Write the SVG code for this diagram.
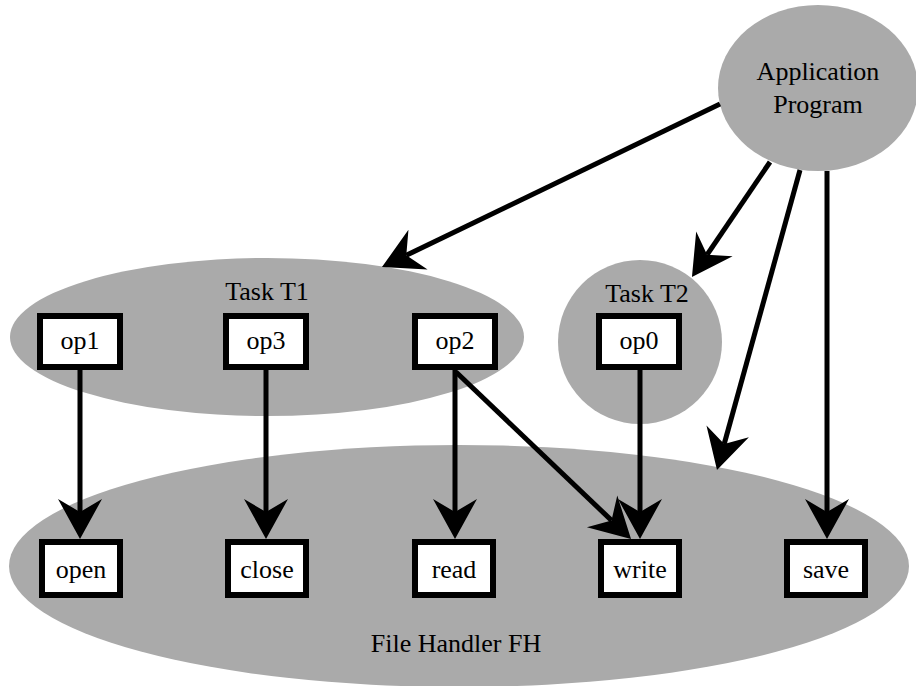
<svg xmlns="http://www.w3.org/2000/svg" width="916" height="686" viewBox="0 0 916 686" font-family="'Liberation Serif', 'DejaVu Serif', serif">
<style>
.cl{fill:#aaaaaa;stroke:none}
.bx{fill:#ffffff;stroke:#000000;stroke-width:6}
.t{font-family:'Liberation Serif','DejaVu Serif',serif;font-size:26px;fill:#000000;text-anchor:middle}
.e{stroke:#000000;stroke-width:5;fill:none;marker-end:url(#ah)}
</style>
<defs>
<marker id="ah" markerUnits="userSpaceOnUse" orient="auto" refX="0" refY="0" markerWidth="60" markerHeight="60" overflow="visible">
<path d="M27,0 L-13,-22 L0,0 L-13,22 Z" fill="#000000"/>
</marker>
</defs>
<g id="FH">
<ellipse class="cl" cx="459" cy="566" rx="450" ry="121"/>
<text class="t" x="456" y="652">File Handler FH</text>
</g>
<g id="T1">
<ellipse class="cl" cx="267" cy="337" rx="257" ry="79"/>
<text class="t" x="267" y="300">Task T1</text>
</g>
<g id="T2">
<circle class="cl" cx="640" cy="342" r="82"/>
<text class="t" x="647" y="302">Task T2</text>
</g>
<g id="AP">
<ellipse class="cl" cx="818" cy="88" rx="100" ry="83"/>
<text class="t" x="818" y="80">Application</text>
<text class="t" x="818" y="113">Program</text>
</g>
<g id="connectors">
<line class="e" x1="80" y1="370" x2="80" y2="512"/>
<line class="e" x1="266" y1="370" x2="266" y2="512"/>
<line class="e" x1="455" y1="370" x2="455" y2="512"/>
<line class="e" x1="640" y1="370" x2="640" y2="512"/>
<line class="e" x1="456" y1="372" x2="611.5" y2="520.4"/>
<line class="e" x1="827" y1="171" x2="827" y2="512"/>
<line class="e" x1="720" y1="104" x2="406.3" y2="255.3"/>
<line class="e" x1="770" y1="162" x2="707.1" y2="254.7"/>
<line class="e" x1="800" y1="170" x2="724.2" y2="444"/>
</g>
<g id="op1"><rect class="bx" x="40" y="316" width="80" height="51"/><text class="t" x="80" y="349">op1</text></g>
<g id="op3"><rect class="bx" x="226" y="316" width="80" height="51"/><text class="t" x="266" y="349">op3</text></g>
<g id="op2"><rect class="bx" x="415" y="316" width="80" height="51"/><text class="t" x="455" y="349">op2</text></g>
<g id="op0"><rect class="bx" x="599" y="316" width="80" height="51"/><text class="t" x="639" y="349">op0</text></g>
<g id="open"><rect class="bx" x="42" y="542" width="78" height="53"/><text class="t" x="81" y="578">open</text></g>
<g id="close"><rect class="bx" x="228" y="542" width="78" height="53"/><text class="t" x="267" y="578">close</text></g>
<g id="read"><rect class="bx" x="415" y="542" width="78" height="53"/><text class="t" x="454" y="578">read</text></g>
<g id="write"><rect class="bx" x="601" y="542" width="78" height="53"/><text class="t" x="640" y="578">write</text></g>
<g id="save"><rect class="bx" x="787" y="542" width="78" height="53"/><text class="t" x="826" y="578">save</text></g>
</svg>
